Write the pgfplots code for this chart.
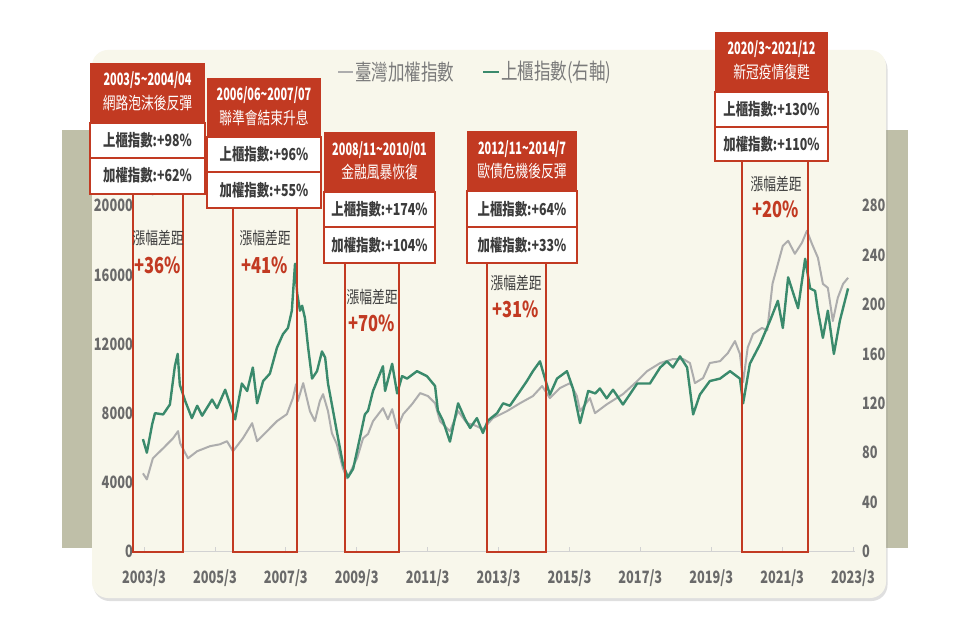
\documentclass[border=0pt]{standalone}
\usepackage{fontspec}
\setmainfont{Noto Sans CJK TC}[FakeStretch=0.75]
\newfontfamily\condfont{Noto Sans CJK TC}[FakeStretch=0.64]
\usepackage{pgfplots}
\pgfplotsset{compat=1.18}
\usepackage{pgfplotstable}
\usetikzlibrary{shadows}

\definecolor{band}{HTML}{BFBFA8}
\definecolor{panel}{HTML}{F8F7EB}
\definecolor{redc}{HTML}{C23A22}
\definecolor{greenc}{HTML}{3A8A6C}
\definecolor{grayc}{HTML}{ADADAD}
\definecolor{tickc}{HTML}{6A6A6A}
\definecolor{textc}{HTML}{3C3C3C}
\definecolor{legc}{HTML}{7A7A7A}
\newcommand\fs[1]{\fontsize{#1}{#1}\selectfont}

\pgfplotstableread{
x y
2003.14 4520
2003.25 4170
2003.42 5390
2003.71 5970
2003.99 6550
2004.13 6960
2004.19 6260
2004.41 5390
2004.67 5800
2005.03 6090
2005.31 6200
2005.51 6380
2005.68 5800
2005.96 6550
2006.22 7420
2006.36 6380
2006.64 6960
2006.92 7540
2007.20 7940
2007.37 8870
2007.46 9680
2007.51 8700
2007.66 9740
2007.85 8120
2007.99 7540
2008.13 8700
2008.22 9100
2008.36 8120
2008.47 6840
2008.61 6200
2008.78 4810
2008.90 4230
2009.18 5390
2009.35 6550
2009.49 6800
2009.63 7540
2009.91 8290
2010.05 7650
2010.17 8230
2010.31 7130
2010.48 7940
2010.73 8520
2010.96 9160
2011.18 8990
2011.38 8580
2011.52 7540
2011.80 6960
2012.03 8120
2012.28 7420
2012.50 7300
2012.73 7070
2013.01 7710
2013.41 8120
2013.78 8580
2014.14 8990
2014.40 9570
2014.62 8870
2014.90 9450
2015.19 9740
2015.38 8990
2015.47 8120
2015.75 8870
2015.89 8000
2016.23 8520
2016.68 9100
2017.08 9850
2017.36 10430
2017.73 10900
2018.09 11130
2018.38 11130
2018.57 10900
2018.71 9740
2018.94 10030
2019.13 10900
2019.42 11010
2019.64 11480
2019.84 12170
2019.98 11420
2020.07 9800
2020.20 11800
2020.35 12580
2020.60 12930
2020.75 12800
2020.90 15500
2021.19 17680
2021.34 17970
2021.53 17220
2021.73 17860
2021.87 18550
2022.01 17800
2022.18 16990
2022.32 15480
2022.46 15250
2022.60 13330
2022.74 14670
2022.89 15480
2023.03 15830
}\taiex

\pgfplotstableread{
x y
2003.14 91
2003.25 80
2003.40 103
2003.48 112
2003.71 111
2003.90 119
2004.04 150
2004.12 160
2004.18 135
2004.33 122
2004.52 108
2004.67 118
2004.81 110
2005.09 123
2005.23 116
2005.46 131
2005.60 119
2005.74 107
2005.93 136
2006.08 130
2006.24 149
2006.36 120
2006.53 138
2006.72 144
2006.92 165
2007.09 176
2007.23 181
2007.34 195
2007.43 233
2007.49 209
2007.57 195
2007.63 199
2007.71 189
2007.80 165
2007.91 140
2008.05 146
2008.19 162
2008.28 157
2008.36 136
2008.47 119
2008.61 97
2008.78 71
2008.92 60
2009.07 67
2009.26 92
2009.40 111
2009.49 114
2009.63 130
2009.91 150
2009.97 130
2010.17 152
2010.31 128
2010.45 142
2010.59 140
2010.87 146
2011.15 142
2011.38 134
2011.46 114
2011.60 106
2011.80 89
2012.03 120
2012.23 107
2012.37 100
2012.56 108
2012.73 96
2012.87 106
2013.13 112
2013.30 120
2013.49 118
2013.78 130
2013.97 138
2014.14 146
2014.34 154
2014.48 140
2014.62 127
2014.82 140
2015.10 146
2015.27 132
2015.47 104
2015.70 130
2015.90 128
2016.03 132
2016.22 124
2016.40 131
2016.68 119
2017.08 136
2017.44 136
2017.73 149
2017.92 154
2018.09 149
2018.29 158
2018.49 149
2018.66 111
2018.85 127
2019.13 138
2019.42 140
2019.70 146
2019.98 140
2020.07 120
2020.26 152
2020.55 168
2020.83 187
2021.05 203
2021.19 181
2021.34 222
2021.53 205
2021.62 197
2021.82 237
2021.96 213
2022.10 211
2022.18 195
2022.32 173
2022.46 195
2022.63 160
2022.80 187
2023.03 213
}\otc

\pgfplotsset{
  common/.style={
    scale only axis, width=719pt, height=345.8pt,
    at={(136pt,88.5pt)}, anchor=south west,
    xmin=2002.944, xmax=2023.226, ymin=0,
    tick label style={font=\fs{17}\bfseries, text=tickc},
  }
}

\begin{document}
\begin{tikzpicture}[x=1pt,y=1pt, every node/.style={inner sep=1pt}]
\fill[white] (0,0) rectangle (960,640);
\fill[band] (62,92) rectangle (908,510);
\fill[panel, rounded corners=16pt, drop shadow={shadow xshift=1.5pt, shadow yshift=-3pt, opacity=0.25}] (92,42) rectangle (886,590);

\begin{axis}[common, ymax=20000,
  axis x line*=bottom, axis y line*=left,
  x axis line style={draw=gray!35, line width=0.8pt},
  y axis line style={draw=none},
  xtick={2003.17,2005.17,2007.17,2009.17,2011.17,2013.17,2015.17,2017.17,2019.17,2021.17,2023.17},
  xticklabels={2003/3,2005/3,2007/3,2009/3,2011/3,2013/3,2015/3,2017/3,2019/3,2021/3,2023/3},
  ytick={0,4000,8000,12000,16000,20000},
  yticklabels={0,4000,8000,12000,16000,20000},
  xtick style={draw=gray!35, line width=0.8pt},
  ytick style={draw=none},
  tick align=inside, major tick length=5pt,
  yticklabel style={inner sep=0pt, xshift=-3pt},
  xticklabel style={inner sep=0pt, yshift=-18pt},
]
\addplot[grayc, line width=2pt, line join=round] table {\taiex};
\end{axis}

\begin{axis}[common, ymax=280,
  axis y line*=right, axis x line=none,
  y axis line style={draw=none},
  ytick={0,40,80,120,160,200,240,280},
  yticklabels={0,40,80,120,160,200,240,280},
  ytick style={draw=none},
  yticklabel style={anchor=west, inner sep=0pt, xshift=7pt},
]
\addplot[greenc, line width=2.4pt, line join=round] table {\otc};
\end{axis}

\begin{scope}[shift={(0,640)}, yscale=-1]
% legend
\draw[grayc, line width=2.2pt] (338,72) -- (353,72);
\node[anchor=west, inner sep=0pt, text=legc, font=\fs{22}] at (355,72) {臺灣加權指數};
\draw[greenc, line width=2.2pt] (483,72) -- (499,72);
\node[anchor=west, inner sep=0pt, text=legc, font=\fs{22}] at (501,72) {上櫃指數(右軸)};

% box 1
\fill[redc] (90,63) rectangle (205,123);
\draw[redc, line width=1.5pt, fill=white] (90,123) rectangle (205,158);
\draw[redc, line width=1.5pt, fill=white] (90,158) rectangle (205,194);
\draw[redc, line width=2.5pt] (133,194) rectangle (183,552);
\node[text=white, font=\condfont\fs{17}\bfseries] at (147.5,80) {2003/5\textasciitilde2004/04};
\node[text=white, font=\fs{17}] at (147.5,103) {網路泡沫後反彈};
\node[text=textc, font=\fs{16.5}\bfseries] at (147.5,140.5) {上櫃指數:+98\%};
\node[text=textc, font=\fs{16.5}\bfseries] at (147.5,175.5) {加權指數:+62\%};
\node[text=textc, font=\fs{17}] at (158,238) {漲幅差距};
\node[text=redc, font=\fs{22}\bfseries] at (158,265) {+36\%};

% box 2
\fill[redc] (207,78) rectangle (321,137);
\draw[redc, line width=1.5pt, fill=white] (207,137) rectangle (321,172);
\draw[redc, line width=1.5pt, fill=white] (207,172) rectangle (321,208);
\draw[redc, line width=2.5pt] (233,208) rectangle (297,552);
\node[text=white, font=\condfont\fs{17}\bfseries] at (264,95) {2006/06\textasciitilde2007/07};
\node[text=white, font=\fs{17}] at (264,118) {聯準會結束升息};
\node[text=textc, font=\fs{16.5}\bfseries] at (264,154.5) {上櫃指數:+96\%};
\node[text=textc, font=\fs{16.5}\bfseries] at (264,190) {加權指數:+55\%};
\node[text=textc, font=\fs{17}] at (265,238) {漲幅差距};
\node[text=redc, font=\fs{22}\bfseries] at (265,265) {+41\%};

% box 3
\fill[redc] (324,132) rectangle (435,192);
\draw[redc, line width=1.5pt, fill=white] (324,192) rectangle (435,227);
\draw[redc, line width=1.5pt, fill=white] (324,227) rectangle (435,263);
\draw[redc, line width=2.5pt] (345,263) rectangle (399,552);
\node[text=white, font=\condfont\fs{17}\bfseries] at (379.5,150) {2008/11\textasciitilde2010/01};
\node[text=white, font=\fs{17}] at (379.5,172) {金融風暴恢復};
\node[text=textc, font=\fs{16.5}\bfseries] at (379.5,209.5) {上櫃指數:+174\%};
\node[text=textc, font=\fs{16.5}\bfseries] at (379.5,245) {加權指數:+104\%};
\node[text=textc, font=\fs{17}] at (372,297) {漲幅差距};
\node[text=redc, font=\fs{22}\bfseries] at (372,323) {+70\%};

% box 4
\fill[redc] (467,131) rectangle (577,191);
\draw[redc, line width=1.5pt, fill=white] (467,191) rectangle (577,227);
\draw[redc, line width=1.5pt, fill=white] (467,227) rectangle (577,263);
\draw[redc, line width=2.5pt] (487,263) rectangle (546,552);
\node[text=white, font=\condfont\fs{17}\bfseries] at (522,149) {2012/11\textasciitilde2014/7};
\node[text=white, font=\fs{17}] at (522,171) {歐債危機後反彈};
\node[text=textc, font=\fs{16.5}\bfseries] at (522,209) {上櫃指數:+64\%};
\node[text=textc, font=\fs{16.5}\bfseries] at (522,245) {加權指數:+33\%};
\node[text=textc, font=\fs{17}] at (516,283) {漲幅差距};
\node[text=redc, font=\fs{22}\bfseries] at (516,309) {+31\%};

% box 5
\fill[redc] (715,32) rectangle (828,92);
\draw[redc, line width=1.5pt, fill=white] (715,92) rectangle (828,127);
\draw[redc, line width=1.5pt, fill=white] (715,127) rectangle (828,161);
\draw[redc, line width=2.5pt] (742,161) rectangle (808,552);
\node[text=white, font=\condfont\fs{17}\bfseries] at (771.5,49) {2020/3\textasciitilde2021/12};
\node[text=white, font=\fs{17}] at (771.5,72) {新冠疫情復甦};
\node[text=textc, font=\fs{16.5}\bfseries] at (771.5,109.5) {上櫃指數:+130\%};
\node[text=textc, font=\fs{16.5}\bfseries] at (771.5,144) {加權指數:+110\%};
\node[text=textc, font=\fs{17}] at (776,184) {漲幅差距};
\node[text=redc, font=\fs{22}\bfseries] at (776,209) {+20\%};
\end{scope}
\end{tikzpicture}
\end{document}
